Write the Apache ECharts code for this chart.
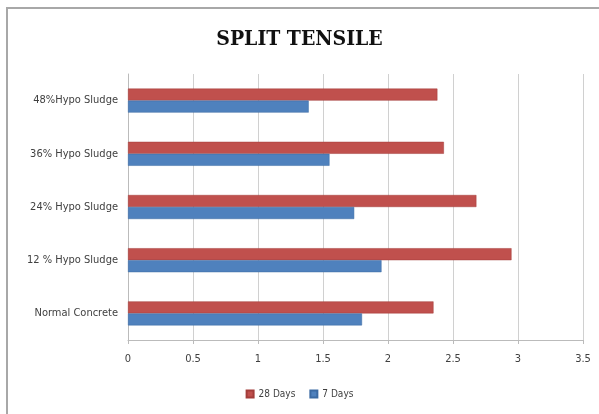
<!DOCTYPE html>
<html>
<head>
    <meta charset="utf-8">
    <title>Split Tensile</title>
    <script src="https://cdn.jsdelivr.net/npm/echarts@6/dist/echarts.min.js"></script>
    <style>
        html, body { margin: 0; padding: 0; background: #fff; }
    </style>
</head>
<body>
<div id="main" style="width: 599px;height:414px;"></div>
<script type="text/javascript">
    // data
    var categories = ['Normal Concrete', '12 % Hypo Sludge', '24% Hypo Sludge', '36% Hypo Sludge', '48%Hypo Sludge'];
    var days28 = [2.35, 2.95, 2.68, 2.43, 2.38];
    var days7 = [1.80, 1.95, 1.74, 1.55, 1.39];
    var xTicks = [0, 0.5, 1, 1.5, 2, 2.5, 3, 3.5];

    var myChart = echarts.init(document.getElementById('main'));

    var labelFont = 'DejaVu Sans Condensed';

    var option = {
        animation: false,
        title: {
            text: 'SPLIT TENSILE',
            left: 'center',
            top: 24,
            textStyle: {
                fontFamily: 'DejaVu Serif Condensed',
                fontWeight: 'bold',
                fontSize: 21,
                color: '#111'
            }
        },
        // outer frame of the chart picture
        graphic: [{
            type: 'rect',
            shape: { x: 7, y: 8, width: 600, height: 420 },
            style: { fill: 'none', stroke: '#a8a8a8', lineWidth: 2 }
        }],
        legend: {
            data: ['28 Days', '7 Days'],
            bottom: 10,
            left: 'center',
            itemWidth: 7,
            itemHeight: 7,
            itemGap: 14,
            icon: 'rect',
            textStyle: { fontFamily: labelFont, fontSize: 10, color: '#404040' }
        },
        grid: { left: 128, right: 16, top: 74, bottom: 74 },
        xAxis: {
            type: 'value',
            min: xTicks[0],
            max: xTicks[xTicks.length - 1],
            interval: 0.5,
            axisLine: { show: true, lineStyle: { color: '#bbb' } },
            axisTick: { show: true, length: 4, lineStyle: { color: '#bbb' } },
            splitLine: { show: true, lineStyle: { color: '#d0d0d0' } },
            axisLabel: { margin: 14, fontFamily: labelFont, fontSize: 11, color: '#404040' }
        },
        yAxis: {
            type: 'category',
            data: categories,
            axisLine: { show: true, lineStyle: { color: '#bbb' } },
            axisTick: { show: false },
            axisLabel: { margin: 10, fontFamily: labelFont, fontSize: 11, color: '#404040' }
        },
        series: [{
            name: '28 Days',
            type: 'bar',
            data: days28,
            barWidth: 12,
            barGap: '0%',
            itemStyle: { color: '#c0504d', borderColor: '#a33d3a', borderWidth: 0.5 }
        }, {
            name: '7 Days',
            type: 'bar',
            data: days7,
            barWidth: 12,
            barGap: '0%',
            itemStyle: { color: '#4f81bd', borderColor: '#3b6aa3', borderWidth: 0.5 }
        }]
    };

    myChart.setOption(option);
</script>
</body>
</html>
